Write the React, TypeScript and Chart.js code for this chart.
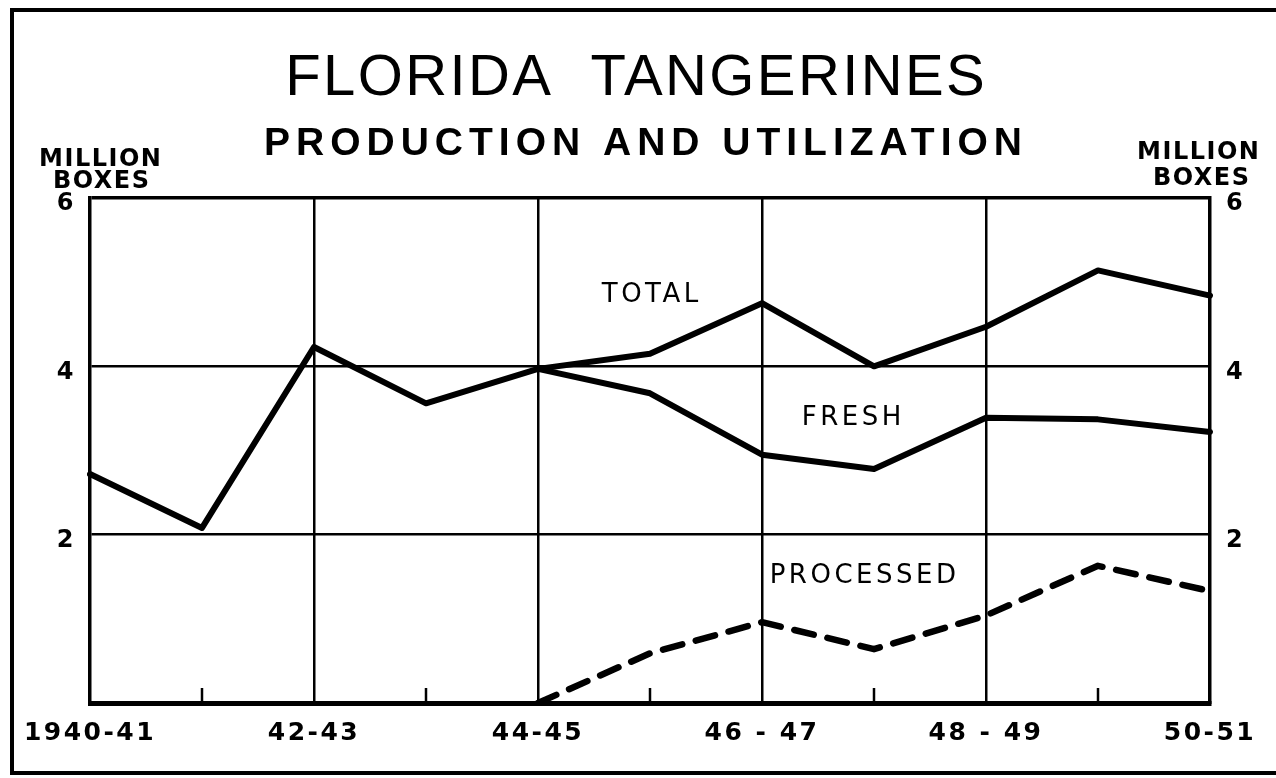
import React, { useEffect, useRef } from 'react';
import { Chart, registerables } from 'chart.js';

Chart.register(...registerables);

// ---- data ----
const seasons = ['1940-41', '1941-42', '1942-43', '1943-44', '1944-45', '1945-46', '1946-47', '1947-48', '1948-49', '1949-50', '1950-51'];
const xTickLabels = ['1940-41', '', '42-43', '', '44-45', '', '46 - 47', '', '48 - 49', '', '50-51'];
const yTickValues = [2, 4, 6];
const totalValues = [2.72, 2.08, 4.23, 3.56, 3.97, 4.15, 4.75, 4.0, 4.47, 5.14, 4.84];
const freshValues = [null, null, null, null, 3.97, 3.68, 2.95, 2.78, 3.39, 3.37, 3.22];
const processedValues = [null, null, null, null, 0, 0.59, 0.96, 0.64, 1.04, 1.63, 1.33];
const seriesNames = ['TOTAL', 'FRESH', 'PROCESSED'];

const W = 1276;
const H = 778;
const LABEL_FONT = '"DejaVu Sans", "Liberation Sans", Arial, sans-serif';
const TITLE_FONT = '"Liberation Sans", Arial, sans-serif';

function spacedText(ctx: CanvasRenderingContext2D, text: string, cx: number, y: number, spacing: number) {
  (ctx as any).letterSpacing = spacing + 'px';
  const w = ctx.measureText(text).width;
  ctx.textAlign = 'left';
  ctx.fillText(text, cx - (w - spacing) / 2, y);
  (ctx as any).letterSpacing = '0px';
}

const decorPlugin = {
  id: 'decor',
  beforeDraw(chart: any) {
    const ctx = chart.ctx as CanvasRenderingContext2D;
    ctx.save();
    ctx.fillStyle = '#fff';
    ctx.fillRect(0, 0, chart.width, chart.height);
    // outer frame
    ctx.strokeStyle = '#000';
    ctx.lineWidth = 4;
    ctx.beginPath();
    ctx.moveTo(W + 2, 10);
    ctx.lineTo(12, 10);
    ctx.lineTo(12, 773);
    ctx.lineTo(W + 2, 773);
    ctx.stroke();
    ctx.restore();
    (ctx as any).letterSpacing = '2.5px';
  },
  beforeDatasetsDraw(chart: any) {
    const ctx = chart.ctx as CanvasRenderingContext2D;
    const xs = chart.scales.x;
    const bottom = chart.chartArea.bottom;
    ctx.save();
    (ctx as any).letterSpacing = '0px';
    ctx.strokeStyle = '#000';
    ctx.lineWidth = 2.5;
    seasons.forEach((_, i) => {
      if (i % 2 === 1) {
        const x = xs.getPixelForValue(i);
        ctx.beginPath();
        ctx.moveTo(x, bottom);
        ctx.lineTo(x, bottom - 15);
        ctx.stroke();
      }
    });
    ctx.restore();
  },
  afterDraw(chart: any) {
    const ctx = chart.ctx as CanvasRenderingContext2D;
    const xs = chart.scales.x;
    const ys = chart.scales.y;
    ctx.save();
    ctx.fillStyle = '#000';
    ctx.textBaseline = 'alphabetic';

    // titles
    ctx.font = `normal 58px ${TITLE_FONT}`;
    spacedText(ctx, 'FLORIDA  TANGERINES', 635, 95, 2.4);
    ctx.font = `bold 39px ${TITLE_FONT}`;
    spacedText(ctx, 'PRODUCTION AND UTILIZATION', 643, 155, 6);

    // axis unit labels
    ctx.font = `bold 24px ${LABEL_FONT}`;
    spacedText(ctx, 'MILLION', 100, 166, 1.5);
    spacedText(ctx, 'BOXES', 101, 188, 1.5);
    spacedText(ctx, 'MILLION', 1198, 159, 1.5);
    spacedText(ctx, 'BOXES', 1201, 185, 1.5);

    // series labels placed through the scales
    ctx.font = `normal 26px ${LABEL_FONT}`;
    ctx.textBaseline = 'middle';
    const anchors: [number, number][] = [[5, 4.84], [6.8, 3.38], [6.9, 1.51]];
    seriesNames.forEach((name, i) => {
      const [ix, vy] = anchors[i];
      const x0 = xs.getPixelForValue(Math.floor(ix));
      const x1 = xs.getPixelForValue(Math.ceil(ix));
      const x = x0 + (x1 - x0) * (ix - Math.floor(ix));
      spacedText(ctx, name, x, ys.getPixelForValue(vy), 3.5);
    });
    ctx.restore();
  },
};

const tickFont = { family: LABEL_FONT, size: 24, weight: 'bold' as const };
const xTickFont = { family: LABEL_FONT, size: 25, weight: 'bold' as const };

export default function App() {
  const ref = useRef<HTMLCanvasElement | null>(null);
  useEffect(() => {
    document.body.style.margin = '0';
    const canvas = ref.current;
    if (!canvas) return;
    const lineCommon = {
      borderColor: '#000',
      backgroundColor: '#000',
      borderWidth: 6,
      pointRadius: 0,
      pointHoverRadius: 0,
      tension: 0,
      borderJoinStyle: 'round' as const,
      borderCapStyle: 'round' as const,
      fill: false,
    };
    const chart = new Chart(canvas, {
      type: 'line',
      data: {
        labels: seasons,
        datasets: [
          { ...lineCommon, label: 'Total', data: totalValues },
          { ...lineCommon, label: 'Fresh', data: freshValues },
          { ...lineCommon, label: 'Processed', data: processedValues, borderDash: [20, 14], borderWidth: 6.5 },
        ],
      },
      options: {
        animation: false,
        responsive: false,
        devicePixelRatio: 1,
        events: [],
        layout: { padding: { top: 198, left: 0, right: 0, bottom: 0 } },
        plugins: {
          legend: { display: false },
          tooltip: { enabled: false },
          title: { display: false },
        },
        scales: {
          x: {
            type: 'category',
            offset: false,
            grid: {
              drawTicks: false,
              lineWidth: 2.5,
              color: (c: any) => (c.index % 2 === 0 && c.index > 0 && c.index < seasons.length - 1 ? '#000' : 'rgba(0,0,0,0)'),
            },
            border: { display: true, color: '#000', width: 5 },
            ticks: {
              autoSkip: false,
              maxRotation: 0,
              minRotation: 0,
              padding: 15,
              color: '#000',
              font: xTickFont,
              callback: (_v: any, i: number) => xTickLabels[i],
            },
            afterFit: (s: any) => {
              s.height = H - 703;
            },
          },
          y: {
            position: 'left',
            min: 0,
            max: 6,
            afterBuildTicks: (s: any) => {
              s.ticks = [0, ...yTickValues].map((v) => ({ value: v }));
            },
            ticks: {
              padding: 14,
              labelOffset: 6,
              color: '#000',
              font: tickFont,
              callback: (v: any) => (yTickValues.includes(Number(v)) ? String(v) : ''),
            },
            grid: {
              drawTicks: false,
              color: (c: any) => (c.tick && c.tick.value > 0 ? '#000' : 'rgba(0,0,0,0)'),
              lineWidth: (c: any) => (c.tick && c.tick.value === 6 ? 3.5 : 2.5),
            },
            border: { display: true, color: '#000', width: 3.5 },
            afterFit: (s: any) => {
              s.width = 90;
            },
          },
          y2: {
            position: 'right',
            min: 0,
            max: 6,
            afterBuildTicks: (s: any) => {
              s.ticks = [0, ...yTickValues].map((v) => ({ value: v }));
            },
            ticks: {
              padding: 16,
              labelOffset: 6,
              color: '#000',
              font: tickFont,
              callback: (v: any) => (yTickValues.includes(Number(v)) ? String(v) : ''),
            },
            grid: { display: false, drawTicks: false },
            border: { display: true, color: '#000', width: 3.5 },
            afterFit: (s: any) => {
              s.width = W - 1210;
            },
          },
        },
      },
      plugins: [decorPlugin],
    } as any);
    return () => chart.destroy();
  }, []);
  return (
    <div style={{ width: W, height: H, background: '#fff' }}>
      <canvas ref={ref} width={W} height={H} style={{ display: 'block', width: W, height: H }} />
    </div>
  );
}
